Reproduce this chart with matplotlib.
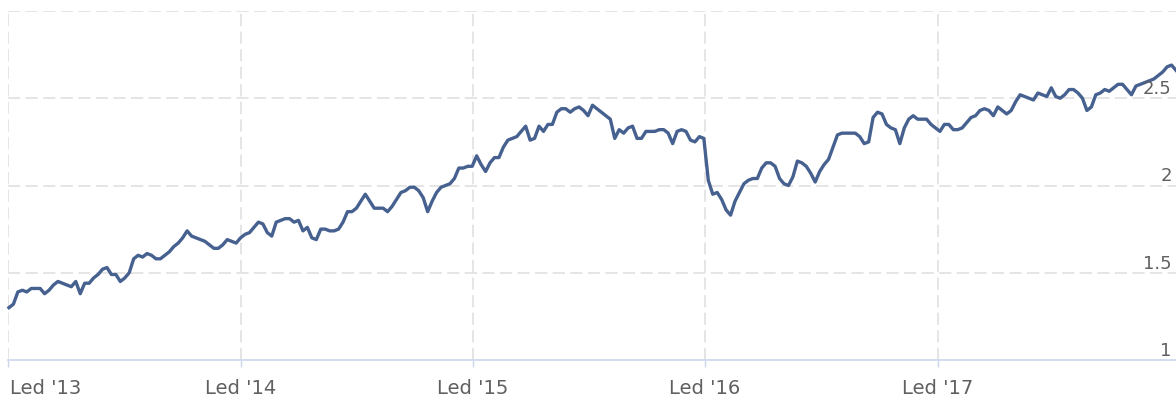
import numpy as np
import pandas as pd
import matplotlib
matplotlib.use("Agg")
import matplotlib.pyplot as plt
import matplotlib.transforms as mtransforms

# weekly values (Jan 2013 - Jan 2018)
vals_2013 = [1.30, 1.32, 1.39, 1.40, 1.39, 1.41, 1.41, 1.41, 1.38, 1.40,
             1.43, 1.45, 1.44, 1.43, 1.42, 1.45, 1.38, 1.44, 1.44, 1.47,
             1.49, 1.52, 1.53, 1.49, 1.49, 1.45, 1.47, 1.50, 1.58, 1.60,
             1.59, 1.61, 1.60, 1.58, 1.58, 1.60, 1.62, 1.65, 1.67, 1.70,
             1.74, 1.71, 1.70, 1.69, 1.68, 1.66, 1.64, 1.64, 1.66, 1.69,
             1.68, 1.67, 1.70]
vals_2014 = [1.72, 1.73, 1.76, 1.79, 1.78, 1.73, 1.71, 1.79, 1.80, 1.81,
             1.81, 1.79, 1.80, 1.74, 1.76, 1.70, 1.69, 1.75, 1.75, 1.74,
             1.74, 1.75, 1.79, 1.85, 1.85, 1.87, 1.91, 1.95, 1.91, 1.87,
             1.87, 1.87, 1.85, 1.88, 1.92, 1.96, 1.97, 1.99, 1.99, 1.97,
             1.93, 1.85, 1.91, 1.96, 1.99, 2.00, 2.01, 2.04, 2.10, 2.10,
             2.11, 2.11]
vals_2015 = [2.17, 2.12, 2.08, 2.13, 2.16, 2.16, 2.22, 2.26, 2.27, 2.28,
             2.31, 2.34, 2.26, 2.27, 2.34, 2.31, 2.35, 2.35, 2.42, 2.44,
             2.44, 2.42, 2.44, 2.45, 2.43, 2.40, 2.46, 2.44, 2.42, 2.40,
             2.38, 2.27, 2.32, 2.30, 2.33, 2.34, 2.27, 2.27, 2.31, 2.31,
             2.31, 2.32, 2.32, 2.30, 2.24, 2.31, 2.32, 2.31, 2.26, 2.25,
             2.28, 2.27]
vals_2016 = [2.03, 1.95, 1.96, 1.92, 1.86, 1.83, 1.91, 1.96, 2.01, 2.03,
             2.04, 2.04, 2.10, 2.13, 2.13, 2.11, 2.04, 2.01, 2.00, 2.05,
             2.14, 2.13, 2.11, 2.07, 2.02, 2.08, 2.12, 2.15, 2.22, 2.29,
             2.30, 2.30, 2.30, 2.30, 2.28, 2.24, 2.25, 2.39, 2.42, 2.41,
             2.35, 2.33, 2.32, 2.24, 2.33, 2.38, 2.40, 2.38, 2.38, 2.38,
             2.35, 2.33, 2.31]
vals_2017 = [2.35, 2.35, 2.32, 2.32, 2.33, 2.36, 2.39, 2.40, 2.43, 2.44,
             2.43, 2.40, 2.45, 2.43, 2.41, 2.43, 2.48, 2.52, 2.51, 2.50,
             2.49, 2.53, 2.52, 2.51, 2.56, 2.51, 2.50, 2.52, 2.55, 2.55,
             2.53, 2.50, 2.43, 2.45, 2.52, 2.53, 2.55, 2.54, 2.56, 2.58,
             2.58, 2.55, 2.52, 2.57, 2.58, 2.59, 2.60, 2.61, 2.63, 2.65,
             2.68, 2.69, 2.66]

values = vals_2013 + vals_2014 + vals_2015 + vals_2016 + vals_2017
dates = pd.date_range("2013-01-02", periods=len(values), freq="7D")

year_ticks = pd.to_datetime(["2013-01-01", "2014-01-01", "2015-01-01",
                             "2016-01-01", "2017-01-01"])
year_labels = ["Led '13", "Led '14", "Led '15", "Led '16", "Led '17"]
y_ticks = [1, 1.5, 2, 2.5, 3]
y_labels = ["1", "1.5", "2", "2.5"]

line_color = "#46618f"
grid_color = "#dedede"
axis_color = "#ccd6eb"
text_color = "#606060"

fig = plt.figure(figsize=(11.76, 3.96), dpi=100)
ax = fig.add_axes([8 / 1176, 1 - 360 / 396, 1 - 8 / 1176, (360 - 11) / 396])

ax.plot(dates, values, color=line_color, lw=2.4, solid_joinstyle="round",
        zorder=3, clip_on=False)

ax.set_xlim(pd.Timestamp("2012-12-31 12:00"), pd.Timestamp("2018-01-10"))
ax.set_ylim(1, 3)

ax.set_xticks(year_ticks)
ax.set_xticklabels(year_labels)
ax.set_yticks(y_ticks)
ax.set_yticklabels([])

for x in year_ticks:
    ax.axvline(x, color=grid_color, lw=1.1, dashes=(8, 3.5), zorder=1)
for y in y_ticks[1:]:
    ax.axhline(y, color=grid_color, lw=1.1, dashes=(8, 3.5), zorder=1)

for s in ["top", "left", "right"]:
    ax.spines[s].set_visible(False)
ax.spines["bottom"].set_color(axis_color)
ax.spines["bottom"].set_linewidth(1.2)

ax.tick_params(axis="x", length=5, width=1, color=axis_color, pad=8.5,
               labelsize=14, labelcolor=text_color)
ax.tick_params(axis="y", length=0)
xl = ax.get_xticklabels()
xl[0].set_ha("left")
xl[0].set_transform(xl[0].get_transform() +
                    mtransforms.ScaledTranslation(2 / 100, 0, fig.dpi_scale_trans))

for v, lab in zip(y_ticks, y_labels):
    ax.annotate(lab, xy=(1, v), xycoords=("axes fraction", "data"),
                xytext=(-3, 3), textcoords="offset points",
                ha="right", va="baseline", fontsize=13, color=text_color)

fig.savefig("out.png", dpi=100, facecolor="white")
